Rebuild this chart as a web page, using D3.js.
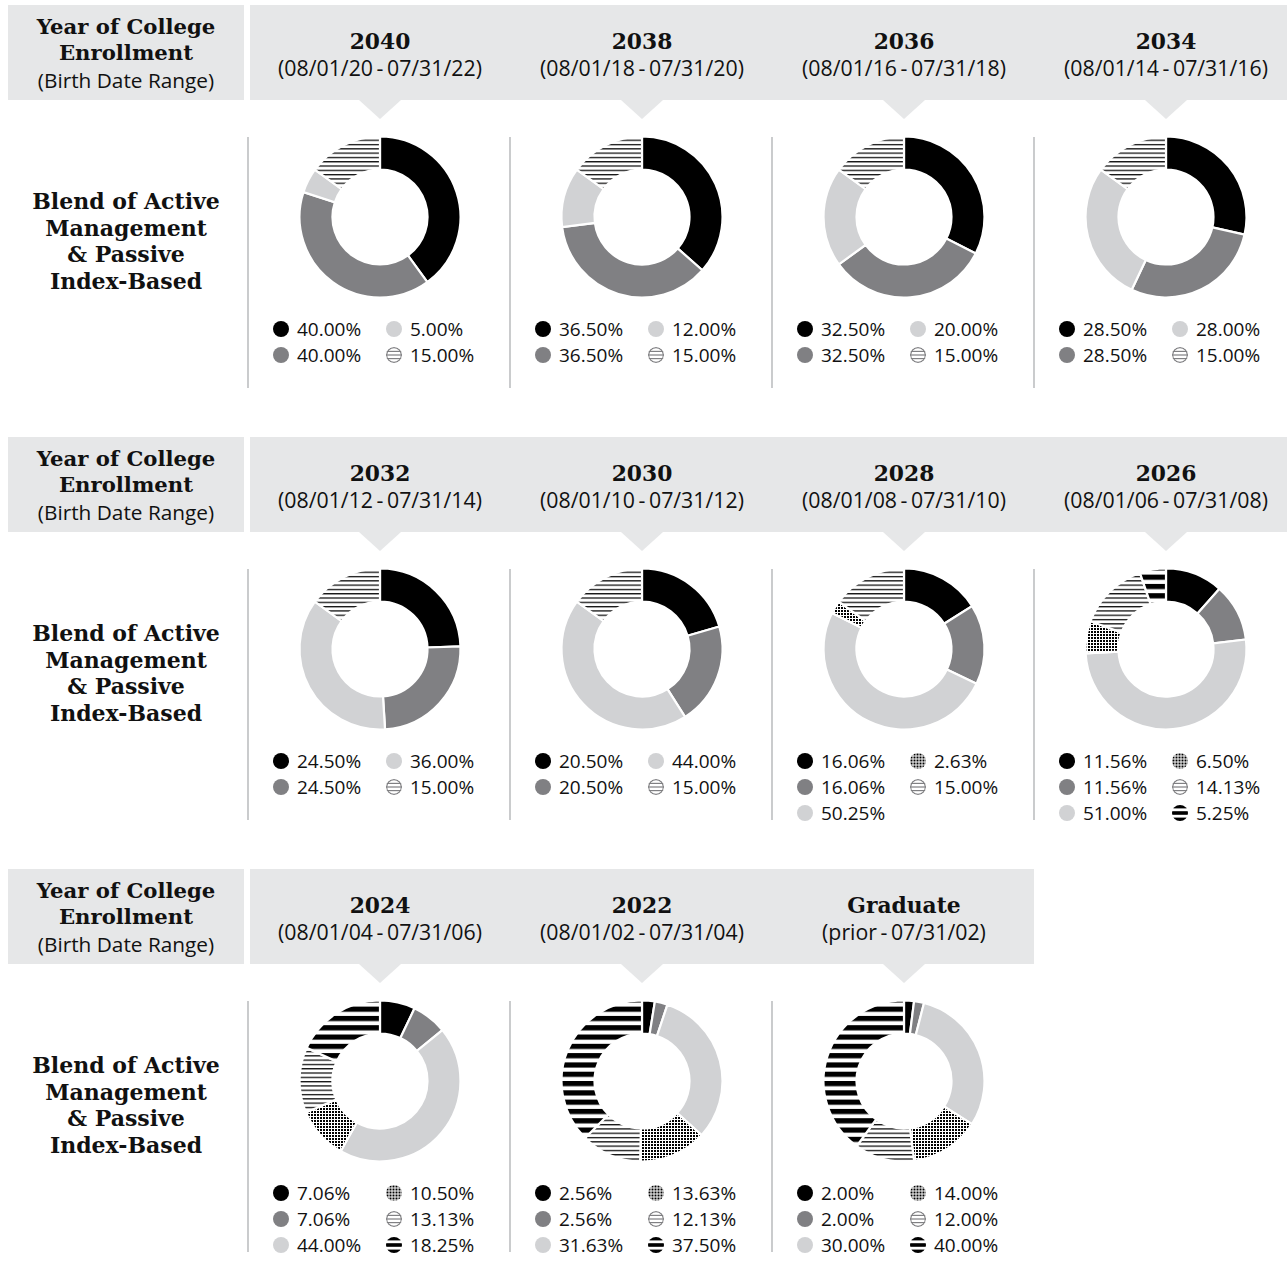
<!DOCTYPE html>
<meta charset="utf-8">
<script src="https://d3js.org/d3.v7.min.js"></script>
<style>
  body { margin: 0; background: #fff; }
  .slab { font-family: "DejaVu Serif", "Liberation Serif", serif; font-weight: bold; }
  .sans { font-family: "Open Sans", Lato, sans-serif; }
</style>
<div id="my_dataviz"></div>
<script>

// one entry per fund (panel), left to right, top to bottom
var years  = ["2040", "2038", "2036", "2034", "2032", "2030", "2028", "2026", "2024", "2022", "Graduate"];
var ranges = ["(08/01/20-07/31/22)", "(08/01/18-07/31/20)", "(08/01/16-07/31/18)", "(08/01/14-07/31/16)",
              "(08/01/12-07/31/14)", "(08/01/10-07/31/12)", "(08/01/08-07/31/10)", "(08/01/06-07/31/08)",
              "(08/01/04-07/31/06)", "(08/01/02-07/31/04)", "(prior-07/31/02)"];

// allocation series (percent)
var blackVals = [40.00, 36.50, 32.50, 28.50, 24.50, 20.50, 16.06, 11.56, 7.06, 2.56, 2.00];
var darkVals  = [40.00, 36.50, 32.50, 28.50, 24.50, 20.50, 16.06, 11.56, 7.06, 2.56, 2.00];
var lightVals = [5.00, 12.00, 20.00, 28.00, 36.00, 44.00, 50.25, 51.00, 44.00, 31.63, 30.00];
var gridVals  = [0, 0, 0, 0, 0, 0, 2.63, 6.50, 10.50, 13.63, 14.00];
var thinVals  = [15.00, 15.00, 15.00, 15.00, 15.00, 15.00, 15.00, 14.13, 13.13, 12.13, 12.00];
var thickVals = [0, 0, 0, 0, 0, 0, 0, 5.25, 18.25, 37.50, 40.00];

var seriesKeys = ["black", "dark", "light", "grid", "thin", "thick"];
var seriesVals = [blackVals, darkVals, lightVals, gridVals, thinVals, thickVals];

var W = 1287, H = 1262;
var perRow = 4, rowStep = 432, colStep = 262, firstCol = 380;
var headTop = 5, headH = 95, donutY = 217, legendY = 329;
var rOut = 80.5, rIn = 47.5;
var grey = "#e6e7e8";

var fill = d3.scaleOrdinal()
  .domain(seriesKeys)
  .range(["#000", "#808083", "#d1d2d4", "url(#p-grid)", "url(#p-thin)", "url(#p-thick)"]);

var svg = d3.select("#my_dataviz")
  .append("svg")
    .attr("width", W)
    .attr("height", H);

// patterns
var defs = svg.append("defs");
var pThin = defs.append("pattern").attr("id", "p-thin")
  .attr("patternUnits", "userSpaceOnUse").attr("width", 8).attr("height", 4.3);
pThin.append("rect").attr("width", 8).attr("height", 4.3).attr("fill", "#fff");
pThin.append("rect").attr("width", 8).attr("height", 1.3).attr("fill", "#111");

var pThick = defs.append("pattern").attr("id", "p-thick")
  .attr("patternUnits", "userSpaceOnUse").attr("width", 8).attr("height", 9.3);
pThick.append("rect").attr("width", 8).attr("height", 9.3).attr("fill", "#fff");
pThick.append("rect").attr("width", 8).attr("height", 5.2).attr("fill", "#000");

var pGrid = defs.append("pattern").attr("id", "p-grid")
  .attr("patternUnits", "userSpaceOnUse").attr("width", 3).attr("height", 3);
pGrid.append("rect").attr("width", 3).attr("height", 3).attr("fill", "#fff");
pGrid.append("rect").attr("width", 2).attr("height", 2).attr("fill", "#000");

var pie = d3.pie().sort(null).value(function(d) { return d.value; });
var arc = d3.arc().innerRadius(rIn).outerRadius(rOut);

var nRows = Math.ceil(years.length / perRow);

// header bands + left labels
for (var r = 0; r < nRows; r++) {
  var oy = r * rowStep;
  var nCols = Math.min(perRow, years.length - r * perRow);
  svg.append("rect").attr("x", 8).attr("y", oy + headTop).attr("width", 236).attr("height", headH).attr("fill", grey);
  svg.append("rect").attr("x", 250).attr("y", oy + headTop)
    .attr("width", nCols === perRow ? W - 250 : nCols * colStep - 2).attr("height", headH).attr("fill", grey);

  var lt = svg.append("text").attr("text-anchor", "middle").attr("fill", "#111");
  lt.append("tspan").attr("class", "slab").attr("x", 126).attr("y", oy + 34).style("font-size", "21.2px").text("Year of College");
  lt.append("tspan").attr("class", "slab").attr("x", 126).attr("y", oy + 60).style("font-size", "21.2px").text("Enrollment");
  lt.append("tspan").attr("class", "sans").attr("x", 126).attr("y", oy + 88).style("font-size", "20.8px").text("(Birth Date Range)");

  var bl = svg.append("text").attr("class", "slab").attr("text-anchor", "middle")
    .attr("fill", "#111").style("font-size", "22px");
  ["Blend of Active", "Management", "& Passive", "Index-Based"].forEach(function(s, i) {
    bl.append("tspan").attr("x", 126).attr("y", oy + 209 + i * 26.7).text(s);
  });
}

years.forEach(function(yr, i) {
  var row = Math.floor(i / perRow), col = i % perRow;
  var cx = firstCol + col * colStep, oy = row * rowStep;

  // pointer under header
  svg.append("path")
    .attr("d", "M" + (cx - 21) + "," + (oy + headTop + headH) + "L" + (cx + 21) + "," + (oy + headTop + headH) +
               "L" + cx + "," + (oy + headTop + headH + 19) + "Z")
    .attr("fill", grey);

  svg.append("text").attr("class", "slab").attr("x", cx).attr("y", oy + 49)
    .attr("text-anchor", "middle").attr("fill", "#111").style("font-size", "21.8px").text(yr);
  svg.append("text").attr("class", "sans").attr("x", cx).attr("y", oy + 76)
    .attr("text-anchor", "middle").attr("fill", "#111").style("font-size", "21.3px")
    .text(ranges[i].replace("-", "\u2009-\u2009"));

  // separator to the left of each panel
  svg.append("line").attr("x1", cx - 132).attr("x2", cx - 132)
    .attr("y1", oy + 137).attr("y2", oy + 388)
    .attr("stroke", "#a7a9ac").attr("stroke-width", 1.2);

  var data = seriesKeys.map(function(k, j) { return {key: k, value: seriesVals[j][i]}; })
    .filter(function(d) { return d.value > 0; });

  var g = svg.append("g").attr("transform", "translate(" + cx + "," + (oy + donutY) + ")");
  g.selectAll("path")
    .data(pie(data))
    .join("path")
      .attr("d", arc)
      .attr("fill", function(d) { return fill(d.data.key); })
      .attr("stroke", "#fff")
      .attr("stroke-width", 2.2);

  // legend, column-major
  var rowsN = data.length > 4 ? 3 : 2;
  var lg = svg.append("g").attr("transform", "translate(" + cx + "," + (oy + legendY) + ")");
  data.forEach(function(d, j) {
    var lx = j < rowsN ? -99 : 14;
    var ly = (j % rowsN) * 26;
    var it = lg.append("g").attr("transform", "translate(" + lx + "," + ly + ")");
    drawIcon(it, d.key, i * 10 + j);
    it.append("text").attr("class", "sans").attr("x", 16).attr("dy", "0.36em")
      .attr("fill", "#111").style("font-size", "19px")
      .text(d.value.toFixed(2) + "%");
  });
});

function drawIcon(sel, key, uid) {
  var r = 8;
  if (key === "black" || key === "dark" || key === "light") {
    sel.append("circle").attr("r", r).attr("fill", fill(key));
    return;
  }
  var cid = "clip-" + uid;
  sel.append("clipPath").attr("id", cid).append("circle").attr("r", r);
  var c = sel.append("g").attr("clip-path", "url(#" + cid + ")");
  if (key === "thin") {
    c.append("circle").attr("r", r - 0.6).attr("fill", "#fff").attr("stroke", "#808083").attr("stroke-width", 1.2);
    [-3.6, 0, 3.6].forEach(function(y) {
      c.append("rect").attr("x", -r).attr("y", y - 0.6).attr("width", 2 * r).attr("height", 1.2).attr("fill", "#808083");
    });
  } else if (key === "thick") {
    c.append("circle").attr("r", r).attr("fill", "#fff");
    [[-r, -4.6], [-1.8, 1.8], [4.6, r]].forEach(function(b) {
      c.append("rect").attr("x", -r).attr("y", b[0]).attr("width", 2 * r).attr("height", b[1] - b[0]).attr("fill", "#000");
    });
  } else if (key === "grid") {
    c.append("circle").attr("r", r).attr("fill", "#fff");
    for (var x = -r; x < r; x += 3) {
      for (var y = -r; y < r; y += 3) {
        c.append("rect").attr("x", x + 0.5).attr("y", y + 0.5).attr("width", 2).attr("height", 2).attr("fill", "#000");
      }
    }
  }
}

</script>
